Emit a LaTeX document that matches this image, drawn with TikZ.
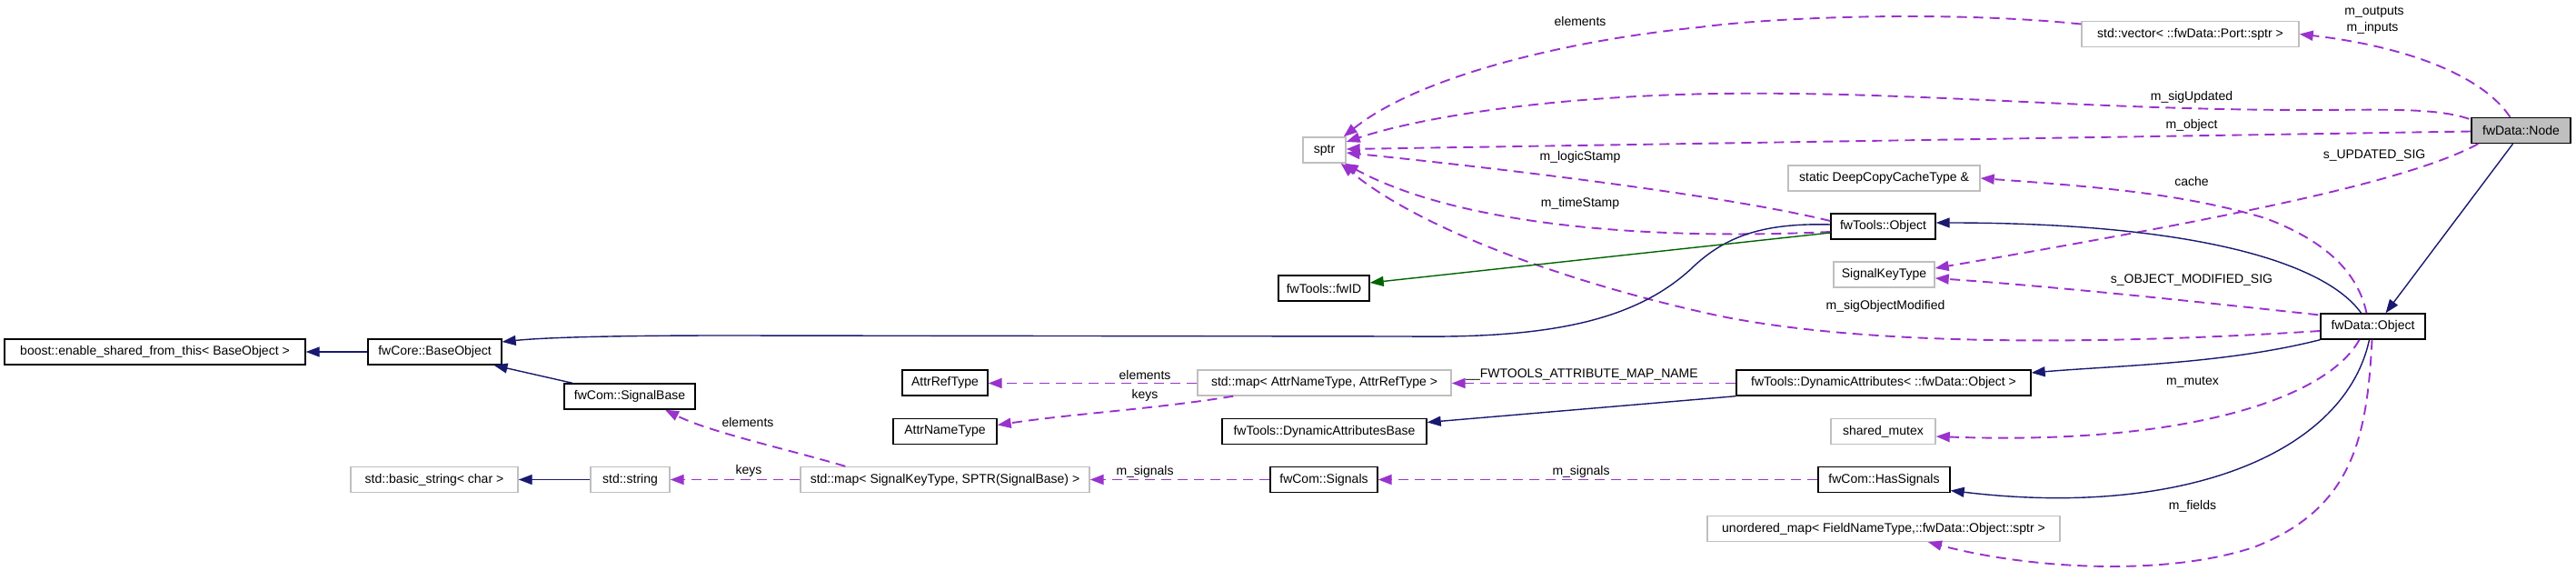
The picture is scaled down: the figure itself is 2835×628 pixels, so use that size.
\documentclass[tikz,border=0pt]{standalone}
\usepackage{fontspec}
\setmainfont{Liberation Sans}
\usetikzlibrary{arrows.meta,calc}
\definecolor{purp}{HTML}{9A32CD}
\definecolor{navy}{HTML}{191970}
\definecolor{dgreen}{HTML}{006400}
\definecolor{boxgray}{HTML}{BFBFBF}
\tikzset{
  box/.style={draw=black, line width=1.4pt, rectangle, minimum height=28pt, inner sep=0pt, fill=white, font=\fontsize{14}{16}\selectfont},
  gbox/.style={box, draw=boxgray},
  lbl/.style={font=\fontsize{14}{16}\selectfont, inner sep=0pt},
  memb/.style={draw=purp, line width=1.9pt, dash pattern=on 11pt off 7pt, -{Triangle[length=15pt,width=11pt,fill=purp]}},
  inh/.style={draw=navy, line width=1.4pt, -{Triangle[length=15pt,width=11pt,fill=navy]}},
  prot/.style={draw=dgreen, line width=1.4pt, -{Triangle[length=15pt,width=11pt,fill=dgreen]}}
}
\begin{document}
\begin{tikzpicture}[x=1pt,y=-1pt]
\useasboundingbox[fill=white] (0,0) rectangle (2835,628);
% nodes
\node[box, fill=boxgray, minimum width=109pt] (node) at (2774.5,143.5) {fwData::Node};
\node[gbox, minimum width=239pt] (vec) at (2410.5,37.5) {std::vector< ::fwData::Port::sptr >};
\node[gbox, minimum width=47pt] (sptr) at (1457.5,165) {sptr};
\node[gbox, minimum width=211pt] (cache) at (2073.5,196) {static DeepCopyCacheType \&};
\node[box, minimum width=115pt] (tobj) at (2072.5,249) {fwTools::Object};
\node[box, minimum width=100pt] (fwid) at (1457,317) {fwTools::fwID};
\node[gbox, minimum width=111pt] (skt) at (2073.5,302) {SignalKeyType};
\node[box, minimum width=115pt] (dobj) at (2611.5,359) {fwData::Object};
\node[box, minimum width=331pt] (boost) at (170.5,387) {boost::enable\_shared\_from\_this< BaseObject >};
\node[box, minimum width=147pt] (base) at (478.5,387) {fwCore::BaseObject};
\node[box, minimum width=144pt] (sigbase) at (693,436) {fwCom::SignalBase};
\node[box, minimum width=94pt] (attrref) at (1040,421) {AttrRefType};
\node[gbox, minimum width=279pt] (amap) at (1457.5,421) {std::map< AttrNameType, AttrRefType >};
\node[box, minimum width=324pt] (dynattr) at (2073,421) {fwTools::DynamicAttributes< ::fwData::Object >};
\node[box, minimum width=114pt] (attrname) at (1040,474.5) {AttrNameType};
\node[box, minimum width=225pt] (dynbase) at (1457.5,474.5) {fwTools::DynamicAttributesBase};
\node[gbox, minimum width=115pt] (mutex) at (2072.5,474.5) {shared\_mutex};
\node[gbox, minimum width=184pt] (bstr) at (478,527.5) {std::basic\_string< char >};
\node[gbox, minimum width=87pt] (str) at (693.5,527.5) {std::string};
\node[gbox, minimum width=318pt] (smap) at (1040,527.5) {std::map< SignalKeyType, SPTR(SignalBase) >};
\node[box, minimum width=118pt] (signals) at (1457,527.5) {fwCom::Signals};
\node[box, minimum width=145pt] (hassig) at (2073.5,527.5) {fwCom::HasSignals};
\node[gbox, minimum width=388pt] (umap) at (2073,581.5) {unordered\_map< FieldNameType,::fwData::Object::sptr >};

% member (dashed) edges
\draw[memb] ($(node.north)+(-12,0)$) .. controls (2730,80) and (2640,50) .. (vec.east);
\node[lbl] (lout) at (2613,13) {m\_outputs};
\node[lbl] (lin) at (2611,31) {m\_inputs};

\draw[memb] ($(vec.west)+(0,-11)$) .. controls (2150,12) and (1960,18) .. (1870,30) .. controls (1720,45) and (1560,85) .. ($(sptr.north east)+(-3,0)$);
\node[lbl] (lel1) at (1739,23) {elements};

\draw[memb] ($(node.north west)+(-2,2)$) .. controls (2680,118) and (2620,121) .. (2540,121) .. controls (2300,121) and (2100,100) .. (1890,103) .. controls (1700,106) and (1560,130) .. ($(sptr.east)+(0,-9)$);
\node[lbl] (lsu) at (2412,107) {m\_sigUpdated};

\draw[memb] ($(node.west)+(0,1)$) -- ($(sptr.east)+(0,-1)$);
\node[lbl] (lobj) at (2412,138) {m\_object};

\draw[memb] ($(tobj.west)+(0,-6)$) .. controls (1900,215) and (1650,185) .. ($(sptr.east)+(0,3)$);
\node[lbl] (llog) at (1739,173) {m\_logicStamp};

\draw[memb] ($(tobj.west)+(0,6)$) .. controls (1800,265) and (1600,245) .. ($(sptr.south east)+(-2,0)$);
\node[lbl] (ltime) at (1739,224) {m\_timeStamp};

\draw[memb] ($(dobj.west)+(0,5)$) .. controls (2300,380) and (2050,380) .. (1890,347) .. controls (1720,310) and (1560,250) .. ($(sptr.south east)+(-6,0)$);
\node[lbl] (lsom) at (2075,337) {m\_sigObjectModified};

\draw[memb] ($(dobj.north)+(-7,0)$) .. controls (2595,300) and (2560,265) .. (2493,240) .. controls (2400,212) and (2300,205) .. (cache.east);
\node[lbl] (lcache) at (2412,199) {cache};

\draw[memb] ($(node.south west)+(8,0)$) .. controls (2650,200) and (2450,240) .. ($(skt.east)+(0,-7)$);
\node[lbl] (lupd) at (2613,171) {s\_UPDATED\_SIG};

\draw[memb] ($(dobj.north west)+(-2,2)$) .. controls (2420,332) and (2260,315) .. ($(skt.east)+(0,4)$);
\node[lbl] (lmod) at (2412,308) {s\_OBJECT\_MODIFIED\_SIG};

\draw[memb] ($(dobj.south)+(-15,0)$) .. controls (2560,440) and (2400,490) .. ($(mutex.east)+(0,5.5)$);
\node[lbl] (lmut) at (2413,420) {m\_mutex};

\draw[memb] ($(dobj.south)+(-1,0)$) .. controls (2605,480) and (2590,560) .. (2480,602) .. controls (2380,635) and (2230,625) .. ($(umap.south)+(49,0)$);
\node[lbl] (lfld) at (2413,557) {m\_fields};

\draw[memb] ($(dynattr.west)+(0,0.5)$) -- ($(amap.east)+(0,0.5)$);
\node[lbl] (lfw) at (1741,412) {\_\_FWTOOLS\_ATTRIBUTE\_MAP\_NAME};

\draw[memb] ($(amap.west)+(0,0.5)$) -- ($(attrref.east)+(0,0.5)$);
\node[lbl] (lel2) at (1260,412) {elements};

\draw[memb] ($(amap.south west)+(40,0)$) .. controls (1270,450) and (1180,455) .. ($(attrname.east)+(0,-7)$);
\node[lbl] (lkeys1) at (1260,435) {keys};

\draw[memb] (hassig.west) -- (signals.east);
\node[lbl] (lsig1) at (1740,519) {m\_signals};

\draw[memb] (signals.west) -- (smap.east);
\node[lbl] (lsig2) at (1260,519) {m\_signals};

\draw[memb] (smap.west) -- (str.east);
\node[lbl] (lkeys2) at (824,518) {keys};

\draw[memb] ($(smap.north west)+(50,0)$) .. controls (870,495) and (780,475) .. ($(sigbase.south)+(39,0)$);
\node[lbl] (lel3) at (823,464) {elements};

% inheritance
\draw[inh] ($(node.south)+(-9,0)$) -- ($(dobj.north)+(14,0)$);
\draw[inh] ($(dobj.north)+(-13,0)$) .. controls (2560,290) and (2420,245) .. ($(tobj.east)+(0,-4)$);
\draw[inh] ($(tobj.west)+(0,-2)$) .. controls (1940,245) and (1900,260) .. (1865,292) .. controls (1800,355) and (1700,372) .. (1550,370) -- (800,369) .. controls (680,369) and (600,371) .. ($(base.east)+(0,-11)$);
\draw[inh] (dobj.south west) .. controls (2450,400) and (2330,402) .. ($(dynattr.east)+(0,-11)$);
\draw[inh] ($(dynattr.south west)+(0,0)$) -- ($(dynbase.east)+(0,-10)$);
\draw[inh] ($(dobj.south)+(-4,0)$) .. controls (2580,500) and (2400,570) .. ($(hassig.east)+(0,12)$);
\draw[inh] (base.west) -- (boost.east);
\draw[inh] ($(sigbase.north)+(-63,0)$) -- ($(base.south)+(65,0)$);
\draw[inh] (str.west) -- (bstr.east);
\draw[prot] ($(tobj.west)+(0,7)$) -- ($(fwid.east)+(0,-6)$);
\end{tikzpicture}
\end{document}
